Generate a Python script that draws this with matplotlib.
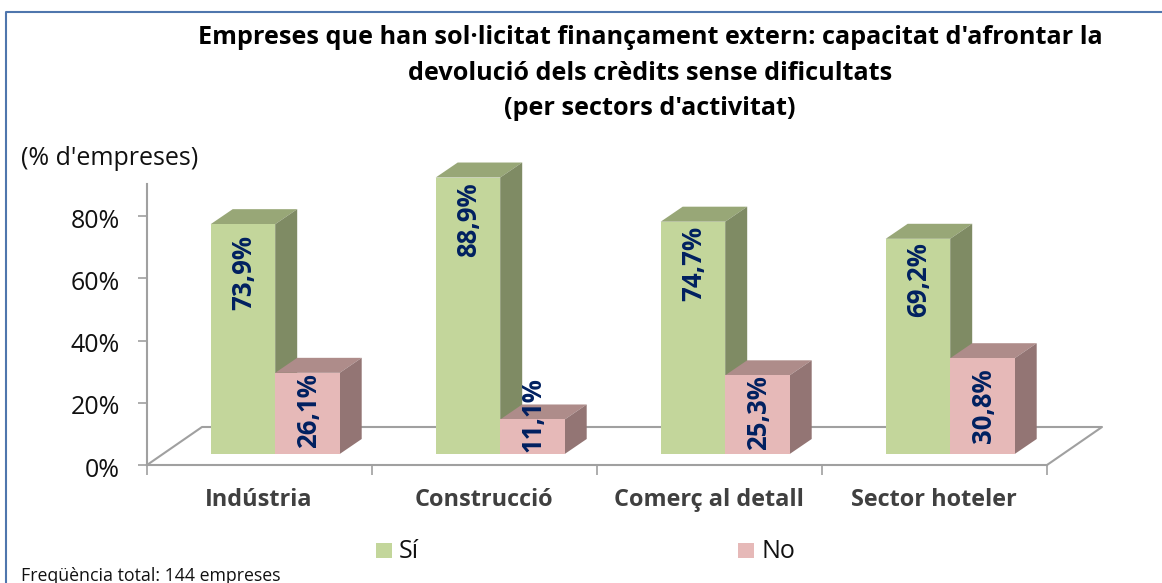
import numpy as np
import matplotlib
matplotlib.use('Agg')
import matplotlib.pyplot as plt
from matplotlib.patches import Polygon, Rectangle
from matplotlib.transforms import ScaledTranslation

# Chart data
categories = ['Indústria', 'Construcció', 'Comerç al detall', 'Sector hoteler']
si_values = [73.9, 88.9, 74.7, 69.2]
no_values = [26.1, 11.1, 25.3, 30.8]
y_ticks = [0, 20, 40, 60, 80]
series_names = ['Sí', 'No']

title_text = ("Empreses que han sol·licitat finançament extern: capacitat d'afrontar la\n"
              "devolució dels crèdits sense dificultats\n"
              "(per sectors d'activitat)")

# Figure size in pixels
W, H = 1162, 583
plt.rcParams['font.family'] = ['Open Sans', 'DejaVu Sans']

# Colours
green, green_top, green_side = '#c3d69b', '#98a777', '#7f8b64'
pink, pink_top, pink_side = '#e6b9b8', '#ae8c8a', '#937574'
navy = '#002060'
grey = '#a0a0a0'

fig = plt.figure(figsize=(W / 100, H / 100), dpi=100)

# Plot area: floor front edge x 147-1047, 0% at y=465, axis top at y=184
ax = fig.add_axes([147 / W, 1 - 465 / H, 900 / W, 281 / H])
px_per_unit = 3.11
ax.set_xlim(0, 4)
ax.set_ylim(0, 281 / px_per_unit)
ax.patch.set_visible(False)

# Pixel to data helpers for the fake 3D offsets
ux = 4 / 900
uy = 1 / px_per_unit

for s in ['top', 'right']:
    ax.spines[s].set_visible(False)
for s in ['left', 'bottom']:
    ax.spines[s].set_color(grey)
    ax.spines[s].set_linewidth(1.5)

ax.set_yticks(y_ticks)
ax.set_yticklabels([f'{t}%' for t in y_ticks], fontsize=18, color='#111111')
ax.set_xticks(np.arange(len(categories) + 1))
ax.set_xticklabels([])
ax.tick_params(axis='both', color=grey, width=1.2, length=7)
ax.tick_params(axis='y', length=6.5, pad=13)
# tick labels sit a little under their ticks in the original
for lab in ax.get_yticklabels():
    lab.set_transform(lab.get_transform() + ScaledTranslation(0, -1.5 / 72, fig.dpi_scale_trans))

# Floor
floor_dx, floor_dy = 55 * ux, 38 * uy
ax.plot([0, floor_dx, 4 + floor_dx, 4], [0, floor_dy, floor_dy, 0],
        color=grey, lw=1.5, clip_on=False, zorder=1)

# Bars
bar_w = 64.5 * ux
depth_dx, depth_dy = 22 * ux, 15 * uy
base_x = 15.7 * ux
base_y = 11 * uy
x = np.arange(len(categories)) + 0.5 + base_x


def draw_bars(xpos, values, front, top, side):
    ax.bar(xpos, values, bar_w, bottom=base_y, color=front, edgecolor='none',
           align='center', zorder=3, clip_on=False)
    for xi, v in zip(xpos, values):
        l, r = xi - bar_w / 2, xi + bar_w / 2
        t = base_y + v
        ax.add_patch(Polygon([(l, t), (l + depth_dx, t + depth_dy),
                              (r + depth_dx, t + depth_dy), (r, t)],
                             closed=True, fc=top, ec='none', zorder=2, clip_on=False))
        ax.add_patch(Polygon([(r, base_y), (r + depth_dx, base_y + depth_dy),
                              (r + depth_dx, t + depth_dy), (r, t)],
                             closed=True, fc=side, ec='none', zorder=2, clip_on=False))


draw_bars(x - bar_w / 2, si_values, green, green_top, green_side)
draw_bars(x + bar_w / 2, no_values, pink, pink_top, pink_side)

# Value labels, rotated, placed by hand like in the original
si_nudge = [11, 5, 4, 3]
no_nudge = [6, 2, 4, 11]
for xi, v, n in zip(x - bar_w / 2, si_values, si_nudge):
    ax.annotate(f'{v:.1f}%'.replace('.', ','), (xi, base_y + v), xytext=(0.7, -n * 0.72),
                textcoords='offset points', rotation=90, ha='center', va='top',
                fontsize=18.5, fontweight='bold', color=navy, zorder=6, annotation_clip=False)
for xi, v, n in zip(x + bar_w / 2, no_values, no_nudge):
    ax.annotate(f'{v:.1f}%'.replace('.', ','), (xi, base_y), xytext=(0.7, n * 0.72),
                textcoords='offset points', rotation=90, ha='center', va='bottom',
                fontsize=18.5, fontweight='bold', color=navy, zorder=6, annotation_clip=False)

# Category labels
for i, c in enumerate(categories):
    fig.text((259 + 225 * i) / W, 1 - 500.5 / H, c, ha='center', va='center',
             fontsize=16.9, fontweight='bold', color='#404040')

# Title and other text
fig.text(650 / W, 1 - 73 / H, title_text, ha='center', va='center', fontsize=18.2,
         fontweight='bold', color='black', linespacing=1.55)
fig.text(21 / W, 1 - 158 / H, "(% d'empreses)", ha='left', va='center', fontsize=18, color='#111111')
fig.text(21 / W, 1 - 576 / H, 'Freqüència total: 144 empreses', ha='left', va='center',
         fontsize=12.8, color='#111111')

# Legend drawn by hand to sit in the same spots
for lx, name, col in zip([376, 738], series_names, [green, pink]):
    fig.add_artist(Rectangle((lx / W, 1 - 558 / H), 16 / W, 15 / H, fc=col, ec='none',
                             transform=fig.transFigure))
    fig.text((lx + 23) / W, 1 - 552 / H, name, ha='left', va='center', fontsize=18, color='#111111')

# Outer frame, open on the right and the bottom
fig.add_artist(plt.Line2D([5.5 / W, 5.5 / W, 1], [0, 1 - 11.5 / H, 1 - 11.5 / H],
                          color='#4f76ad', lw=1.5, transform=fig.transFigure))

fig.savefig('out.png', dpi=100)
